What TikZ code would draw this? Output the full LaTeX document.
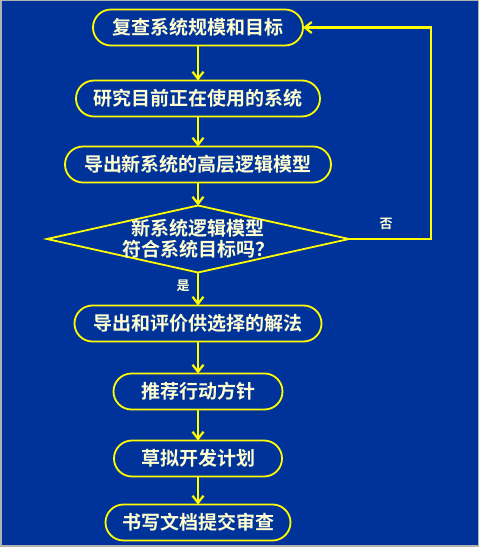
\documentclass[tikz,border=0pt]{standalone}
\usepackage{fontspec}
\setmainfont{Noto Sans CJK SC}[BoldFont={Noto Sans CJK SC Bold}]
\usepackage{xcolor}
\usepackage{tikz}
\usetikzlibrary{positioning,shapes,arrows.meta,calc}
\definecolor{chartblue}{RGB}{0, 51, 153}
\definecolor{chartyellow}{RGB}{255, 255, 0}
\definecolor{chartcream}{RGB}{255, 255, 210}

\tikzset{
  stepbox/.style={rectangle, rounded corners=18pt, draw=chartyellow, line width=1.8pt, outer sep=0pt,
    minimum height=36pt, text=chartcream, font=\fontsize{19}{21}\selectfont\bfseries},
  flowline/.style={-{Straight Barb[length=7pt, width=11pt]}, draw=chartyellow, line width=2.2pt},
  tag/.style={text=chartcream, font=\fontsize{13}{15}\selectfont\bfseries, inner sep=0pt}
}

\begin{document}
\begin{tikzpicture}[x=1pt, y=1pt, node distance=30pt]
        \useasboundingbox (0,0) rectangle (479,547);
        \fill[chartblue, draw=gray!60, line width=1.5pt] (0.75,0.75) rectangle (478.25,546.25);

        \node[stepbox, minimum width=210pt] (review) at (198,519.5) {复查系统规模和目标};
        \node[stepbox, minimum width=244pt, below=35pt of review] (study) {研究目前正在使用的系统};
        \node[stepbox, minimum width=266pt, below=30pt of study] (model) {导出新系统的高层逻辑模型};
        \node[diamond, draw=chartyellow, line width=1.8pt, outer sep=0pt, minimum width=302pt, minimum height=67pt, below=23pt of model] (check) {};
        \node[text=chartcream, font=\fontsize{19}{21}\selectfont\bfseries, align=center, inner sep=0pt] (question) at (check) {新系统逻辑模型\\符合系统目标吗？};
        \node[stepbox, minimum width=247pt, below=33pt of check] (solve) {导出和评价供选择的解法};
        \node[stepbox, minimum width=169pt, below=32pt of solve] (advise) {推荐行动方针};
        \node[stepbox, minimum width=168pt, below=31pt of advise] (plan) {草拟开发计划};
        \node[stepbox, minimum width=185pt, below=28pt of plan] (report) {书写文档提交审查};

        \node[tag] (no) at ($(check.east)+(37,15)$) {否};
        \node[tag] (yes) at ($(check.south)+(-15,-13)$) {是};

        \draw[flowline] (review) -- (study);
        \draw[flowline] (study) -- (model);
        \draw[flowline] (model) -- (check);
        \draw[flowline] (check) -- (solve);
        \draw[flowline] (solve) -- (advise);
        \draw[flowline] (advise) -- (plan);
        \draw[flowline] (plan) -- (report);
        \draw[flowline] (check.east) -- ++(82,0) |- (review.east);
    \end{tikzpicture}
\end{document}
